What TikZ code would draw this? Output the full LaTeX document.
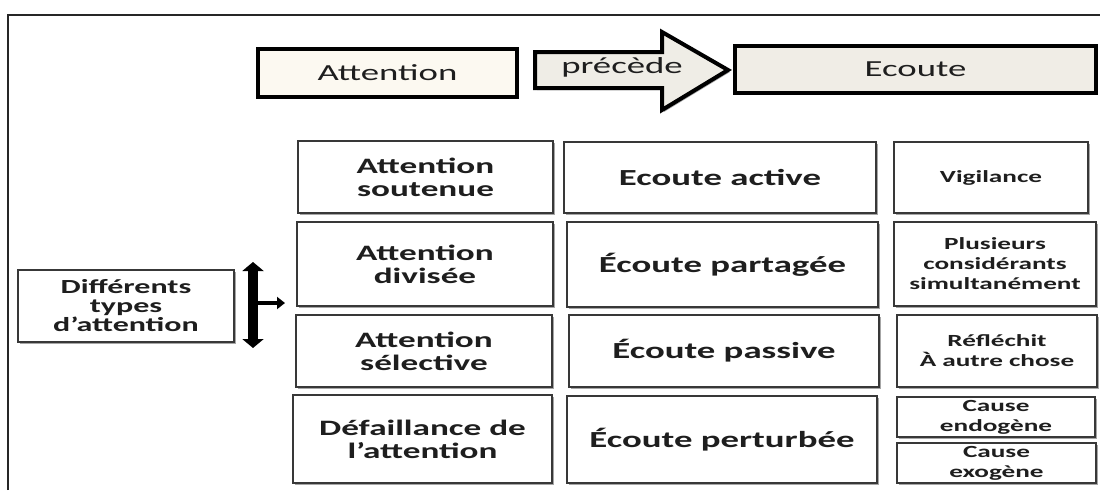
\documentclass[tikz,border=0pt]{standalone}
\usepackage{fontspec}
\setmainfont{Carlito}[FakeStretch=1.6]
\usetikzlibrary{arrows.meta,shadows}
\definecolor{txt}{HTML}{1E1E1E}
\definecolor{boxline}{HTML}{383838}
\definecolor{creamA}{HTML}{FCF9F1}
\definecolor{creamB}{HTML}{F0EDE6}
\definecolor{creamC}{HTML}{EFEDE6}
\newcommand\fTop{\fontsize{23}{25}\selectfont}
\newcommand\fAcol{\fontsize{22}{23}\selectfont\bfseries}
\newcommand\fBcol{\fontsize{23}{25}\selectfont\bfseries}
\newcommand\fCcol{\fontsize{17}{20}\selectfont\bfseries}
\newcommand\fDif{\fontsize{20}{19}\selectfont\bfseries}
\begin{document}
\begin{tikzpicture}[x=1pt,y=-1pt,
  gbox/.style={draw=boxline, line width=1.3pt, fill=white, align=center,
    inner sep=0pt, outer sep=0pt, text=txt,
    drop shadow={shadow xshift=1.5pt, shadow yshift=-1.5pt, opacity=0.35, fill=black}},
  tbox/.style={draw=black, line width=4pt, align=center, inner sep=0pt, outer sep=0pt,
    text=txt, font=\fTop,
    drop shadow={shadow xshift=2pt, shadow yshift=-2pt, opacity=0.35, fill=black}},
  bigarrow/.style={line width=10pt, {Triangle[width=21pt,length=9pt]}-{Triangle[width=21pt,length=9pt]}},
  smallarrow/.style={line width=4pt, -{Triangle[width=12pt,length=8pt]}}
]
\useasboundingbox (0,0) rectangle (1100,490);
% outer frame
\coordinate (fbl) at (8,490);
\coordinate (ftl) at (8,15);
\coordinate (ftr) at (1100,15);
\draw[line width=2pt, black!85] (fbl) -- (ftl) -- (ftr);

% top row
\node[tbox, fill=creamA, minimum width=259, minimum height=48] (att) at (387.5,73) {Attention};
\node[tbox, fill=creamB, minimum width=361, minimum height=47] (eco) at (915.5,69.5) {Ecoute};
\draw[line width=4pt, fill=creamC, line join=miter,
  drop shadow={shadow xshift=2pt, shadow yshift=-2pt, opacity=0.35, fill=black}]
  (535,52) -- (662,52) -- (662,32) -- (728,70) -- (662,110) -- (662,88) -- (535,88) -- cycle;
\node[text=txt, font=\fTop, inner sep=0pt] (prec) at (622,67) {précède};

% grid column A
\node[gbox, font=\fAcol, minimum width=255, minimum height=72] (a1) at (425.5,177) {Attention\\soutenue};
\node[gbox, font=\fAcol, minimum width=256, minimum height=84] (a2) at (425,264) {Attention\\divisée};
\node[gbox, font=\fAcol, minimum width=256, minimum height=72] (a3) at (424,351) {Attention\\sélective};
\node[gbox, font=\fAcol, minimum width=259, minimum height=88] (a4) at (422.5,439) {Défaillance de\\l’attention};
% column B
\node[gbox, font=\fBcol, minimum width=312, minimum height=71] (b1) at (720,177.5) {Ecoute active};
\node[gbox, font=\fBcol, minimum width=311, minimum height=85] (b2) at (722.5,264.5) {Écoute partagée};
\node[gbox, font=\fBcol, minimum width=310, minimum height=72] (b3) at (724,351) {Écoute passive};
\node[gbox, font=\fBcol, minimum width=310, minimum height=87] (b4) at (722,439.5) {Écoute perturbée};
% column C
\node[gbox, font=\fCcol, minimum width=194, minimum height=71] (c1) at (991,177.5) {Vigilance};
\node[gbox, font=\fCcol, minimum width=202, minimum height=84] (c2) at (995,264) {Plusieurs\\considérants\\simultanément};
\node[gbox, font=\fCcol, minimum width=200, minimum height=72] (c3) at (997,351) {Réfléchit\\À autre chose};
\node[gbox, font=\fCcol, minimum width=198, minimum height=40] (c4a) at (996,417) {Cause\\endogène};
\node[gbox, font=\fCcol, minimum width=199, minimum height=40] (c4b) at (996.5,463) {Cause\\exogène};

% left box and arrows
\node[gbox, font=\fDif, minimum width=216, minimum height=72] (dif) at (126,306) {Différents\\types\\d’attention};
\coordinate (vtop) at (253,262);
\coordinate (vbot) at (253,348);
\coordinate (hs) at (253,303);
\coordinate (he) at (285,303);
\draw[bigarrow] (vtop) -- (vbot);
\draw[smallarrow] (hs) -- (he);
\end{tikzpicture}
\end{document}
